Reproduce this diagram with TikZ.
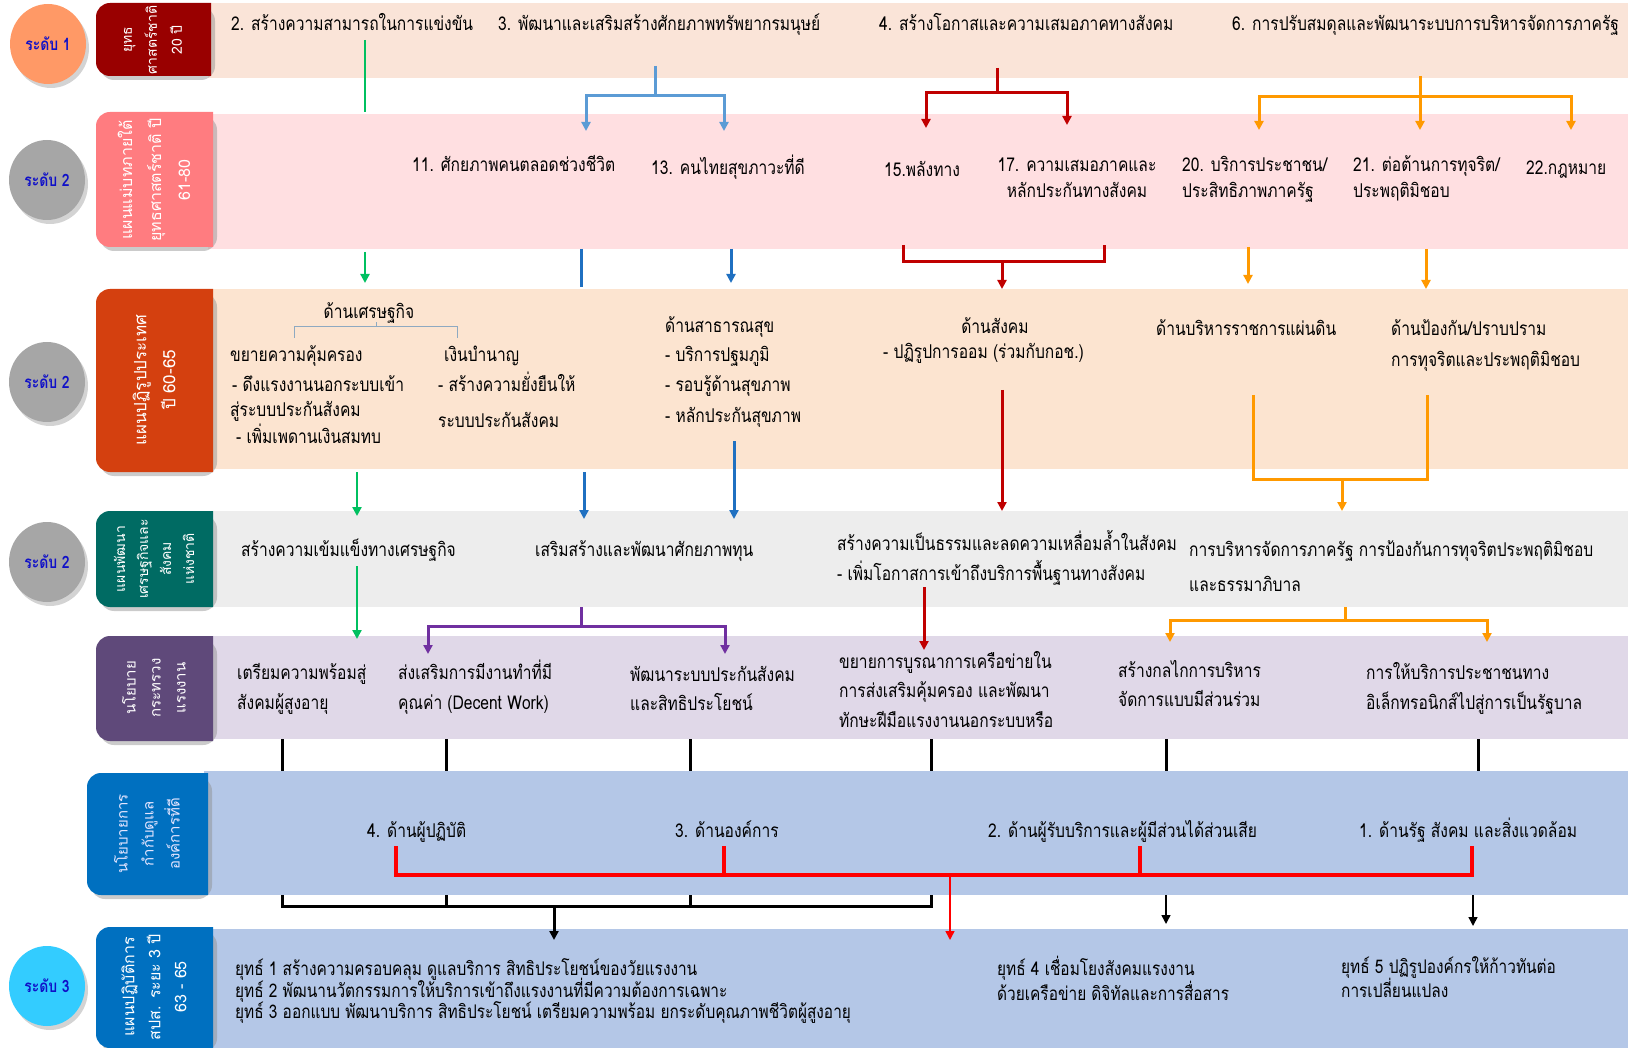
\documentclass[tikz,border=0pt]{standalone}
\usepackage{fontspec}
\setmainfont{Loma}[Script=Thai,FakeStretch=0.82]
\newfontfamily\tagfont{Loma}[Script=Thai]
\usetikzlibrary{arrows.meta,shapes.geometric,shadows}

\definecolor{bandA}{HTML}{FAE4D8}
\definecolor{bandB}{HTML}{FFDFE1}
\definecolor{bandC}{HTML}{FCE4D0}
\definecolor{bandD}{HTML}{EDEDED}
\definecolor{bandE}{HTML}{E0D8E8}
\definecolor{bandF}{HTML}{B4C7E7}
\definecolor{tagA}{HTML}{990000}
\definecolor{tagB}{HTML}{FF7C80}
\definecolor{tagC}{HTML}{D4400F}
\definecolor{tagD}{HTML}{006B63}
\definecolor{tagE}{HTML}{5F497A}
\definecolor{tagF}{HTML}{0070C0}
\definecolor{lvA}{HTML}{FF9966}
\definecolor{lvB}{HTML}{A6A6A6}
\definecolor{lvC}{HTML}{33CCFF}
\definecolor{lvtext}{HTML}{1010C8}
\definecolor{cgreen}{HTML}{00C060}
\definecolor{clblue}{HTML}{5B9BD5}
\definecolor{cdblue}{HTML}{1F70C1}
\definecolor{cpurple}{HTML}{7030A0}
\definecolor{cdred}{HTML}{C00000}
\definecolor{corange}{HTML}{FF9900}
\definecolor{brk}{HTML}{8EA9C1}

\tikzset{
  txt/.style={anchor=base west,inner sep=0pt,font=\fontsize{19}{23}\selectfont},
  txtc/.style={txt,anchor=base},
  small/.style={txt,font=\fontsize{18.8}{21}\selectfont},
  tagtxt/.style={rotate=90,align=center,text=white,inner sep=0pt,font=\tagfont\fontsize{14}{24}\selectfont},
  lvl/.style={ellipse,minimum width=76pt,minimum height=80pt,inner sep=0pt,text=lvtext,
    font=\fontsize{17}{19}\selectfont\bfseries,
    drop shadow={shadow xshift=3pt,shadow yshift=-4pt,opacity=.35}},
  gline/.style={cgreen,line width=2.5pt},
  lbline/.style={clblue,line width=3pt},
  dbline/.style={cdblue,line width=3pt},
  pline/.style={cpurple,line width=3pt},
  rline/.style={cdred,line width=3pt},
  oline/.style={corange,line width=3pt},
  kline/.style={black,line width=3pt},
  bline/.style={red,line width=4pt}
}

% side tag with rounded left corners
\newcommand\sidetag[5]{%
  \fill[black!45,opacity=.45,rounded corners=14pt] (#2+4,#3+4) rectangle (#4+4,#5+4);
  \begin{scope}
    \clip (#2,#3) rectangle (#4,#5);
    \fill[#1,rounded corners=14pt] (#2,#3) rectangle (#4+30,#5);
  \end{scope}}

\begin{document}
\begin{tikzpicture}[x=1pt,y=-1pt,>={Triangle[length=9pt,width=9pt]}]
  \useasboundingbox (0,0) rectangle (1628,1048);

  % bands
  \fill[bandA] (208,3) rectangle (1628,78);
  \fill[bandB] (208,114) rectangle (1628,249);
  \fill[bandC] (208,289) rectangle (1628,469);
  \fill[bandD] (208,511) rectangle (1628,607);
  \fill[bandE] (208,636) rectangle (1628,739);
  \fill[bandF] (204,771) rectangle (1628,895);
  \fill[bandF] (208,929) rectangle (1628,1048);

  % side tags
  \sidetag{tagA}{96}{3}{211}{76}
  \sidetag{tagB}{96}{112}{213}{247}
  \sidetag{tagC}{96}{289}{213}{472}
  \sidetag{tagD}{96}{511}{213}{607}
  \sidetag{tagE}{96}{636}{213}{741}
  \sidetag{tagF}{87}{773}{208}{895}
  \sidetag{tagF}{96}{927}{213}{1048}
  \node[tagtxt,font=\tagfont\fontsize{14}{25}\selectfont] (tag1) at (153,40) {ยุทธ\\ศาสตร์ชาติ\\20 ปี};
  \node[tagtxt,font=\tagfont\fontsize{16}{29}\selectfont] (tag2) at (154,180) {แผนแม่บทภายใต้\\ยุทธศาสตร์ชาติ ปี\\61-80};
  \node[tagtxt,font=\tagfont\fontsize{17}{29}\selectfont] (tag3) at (154,380) {แผนปฏิรูปประเทศ\\ปี 60-65};
  \node[tagtxt,font=\tagfont\fontsize{14}{23}\selectfont] (tag4) at (154,559) {แผนพัฒนา\\เศรษฐกิจและ\\สังคม\\แห่งชาติ};
  \node[tagtxt,font=\tagfont\fontsize{15}{25}\selectfont] (tag5) at (154,688) {นโยบาย\\กระทรวง\\แรงงาน};
  \node[tagtxt,text=blue!10,font=\tagfont\fontsize{15}{26}\selectfont] (tag6) at (147,834) {นโยบายการ\\กำกับดูแล\\องค์การที่ดี};
  \node[tagtxt,font=\tagfont\fontsize{16}{26}\selectfont] (tag7) at (154,987) {แผนปฏิบัติการ\\สปส. ระยะ 3 ปี\\63 - 65};

  % levels
  \node[lvl,fill=lvA] (lv1) at (48,44) {ระดับ 1};
  \node[lvl,fill=lvB] (lv2) at (47,180) {ระดับ 2};
  \node[lvl,fill=lvB] (lv3) at (47,382) {ระดับ 2};
  \node[lvl,fill=lvB] (lv4) at (47,562) {ระดับ 2};
  \node[lvl,fill=lvC] (lv5) at (47,986) {ระดับ 3};

  % row 1
  \node[txt] (s2) at (231,31) {2. สร้างความสามารถในการแข่งขัน};
  \node[txt] (s3) at (498,31) {3. พัฒนาและเสริมสร้างศักยภาพทรัพยากรมนุษย์};
  \node[txt] (s4) at (879,31) {4. สร้างโอกาสและความเสมอภาคทางสังคม};
  \node[txt] (s6) at (1232,31) {6. การปรับสมดุลและพัฒนาระบบการบริหารจัดการภาครัฐ};

  % row 2
  \node[txt] (m11) at (412,172) {11. ศักยภาพคนตลอดช่วงชีวิต};
  \node[txt] (m13) at (651,175) {13. คนไทยสุขภาวะที่ดี};
  \node[txt] (m15) at (884,177) {15.พลังทาง};
  \node[txtc] (m17a) at (1077,172) {17. ความเสมอภาคและ};
  \node[txtc] (m17b) at (1077,198) {หลักประกันทางสังคม};
  \node[txt] (m20a) at (1182,172) {20. บริการประชาชน/};
  \node[txt] (m20b) at (1182,198) {ประสิทธิภาพภาครัฐ};
  \node[txt] (m21a) at (1353,172) {21. ต่อต้านการทุจริต/};
  \node[txt] (m21b) at (1353,198) {ประพฤติมิชอบ};
  \node[txt] (m22) at (1526,175) {22.กฎหมาย};

  % row 3
  \node[txtc] (econ) at (369,319) {ด้านเศรษฐกิจ};
  \draw[brk,line width=1pt] (294,338) |- (457,327) -- (457,338);
  \draw[brk,line width=1pt] (376,327) -- (376,322);
  \node[txt] (x1) at (230,362) {ขยายความคุ้มครอง};
  \node[txt] (x2) at (232,392) {- ดึงแรงงานนอกระบบเข้า};
  \node[txt] (x3) at (230,417) {สู่ระบบประกันสังคม};
  \node[txt] (x4) at (236,443) {- เพิ่มเพดานเงินสมทบ};
  \node[txt] (p1) at (444,362) {เงินบำนาญ};
  \node[txt] (p2) at (438,392) {- สร้างความยั่งยืนให้};
  \node[txt] (p3) at (438,428) {ระบบประกันสังคม};
  \node[txt] (h1) at (665,333) {ด้านสาธารณสุข};
  \node[txt] (h2) at (665,362) {- บริการปฐมภูมิ};
  \node[txt] (h3) at (665,392) {- รอบรู้ด้านสุขภาพ};
  \node[txt] (h4) at (665,422) {- หลักประกันสุขภาพ};
  \node[txtc] (so1) at (995,334) {ด้านสังคม};
  \node[txt] (so2) at (883,359) {- ปฏิรูปการออม (ร่วมกับกอช.)};
  \node[txt] (ad1) at (1156,336) {ด้านบริหารราชการแผ่นดิน};
  \node[txt] (pv1) at (1391,336) {ด้านป้องกัน/ปราบปราม};
  \node[txt] (pv2) at (1391,367) {การทุจริตและประพฤติมิชอบ};

  % row 4
  \node[txt] (n1) at (241,556) {สร้างความเข้มแข็งทางเศรษฐกิจ};
  \node[txt] (n2) at (535,556) {เสริมสร้างและพัฒนาศักยภาพทุน};
  \node[txt] (n3a) at (837,550) {สร้างความเป็นธรรมและลดความเหลื่อมล้ำในสังคม};
  \node[txt] (n3b) at (837,580) {- เพิ่มโอกาสการเข้าถึงบริการพื้นฐานทางสังคม};
  \node[txt] (n4a) at (1189,556) {การบริหารจัดการภาครัฐ การป้องกันการทุจริตประพฤติมิชอบ};
  \node[txt] (n4b) at (1189,591) {และธรรมาภิบาล};

  % row 5
  \node[txt] (l1a) at (237,679) {เตรียมความพร้อมสู่};
  \node[txt] (l1b) at (237,709) {สังคมผู้สูงอายุ};
  \node[txt] (l2a) at (398,679) {ส่งเสริมการมีงานทำที่มี};
  \node[txt] (l2b) at (398,709) {คุณค่า (Decent Work)};
  \node[txt] (l3a) at (630,681) {พัฒนาระบบประกันสังคม};
  \node[txt] (l3b) at (630,710) {และสิทธิประโยชน์};
  \node[txt] (l4a) at (839,668) {ขยายการบูรณาการเครือข่ายใน};
  \node[txt] (l4b) at (839,697) {การส่งเสริมคุ้มครอง และพัฒนา};
  \node[txt] (l4c) at (839,727) {ทักษะฝีมือแรงงานนอกระบบหรือ};
  \node[txt] (l5a) at (1118,677) {สร้างกลไกการบริหาร};
  \node[txt] (l5b) at (1118,706) {จัดการแบบมีส่วนร่วม};
  \node[txt] (l6a) at (1366,679) {การให้บริการประชาชนทาง};
  \node[txt] (l6b) at (1366,709) {อิเล็กทรอนิกส์ไปสู่การเป็นรัฐบาล};

  % row 6
  \node[txt] (g4) at (367,837) {4. ด้านผู้ปฏิบัติ};
  \node[txt] (g3) at (675,837) {3. ด้านองค์การ};
  \node[txt] (g2) at (988,837) {2. ด้านผู้รับบริการและผู้มีส่วนได้ส่วนเสีย};
  \node[txt] (g1) at (1359,837) {1. ด้านรัฐ สังคม และสิ่งแวดล้อม};

  % row 7
  \node[small] (y1) at (235,975) {ยุทธ์ 1 สร้างความครอบคลุม ดูแลบริการ สิทธิประโยชน์ของวัยแรงงาน};
  \node[small] (y2) at (235,997) {ยุทธ์ 2 พัฒนานวัตกรรมการให้บริการเข้าถึงแรงงานที่มีความต้องการเฉพาะ};
  \node[small] (y3) at (235,1018) {ยุทธ์ 3 ออกแบบ พัฒนาบริการ สิทธิประโยชน์ เตรียมความพร้อม ยกระดับคุณภาพชีวิตผู้สูงอายุ};
  \node[small] (y4a) at (997,975) {ยุทธ์ 4 เชื่อมโยงสังคมแรงงาน};
  \node[small] (y4b) at (997,1000) {ด้วยเครือข่าย ดิจิทัลและการสื่อสาร};
  \node[small] (y5a) at (1341,973) {ยุทธ์ 5 ปฏิรูปองค์กรให้ก้าวทันต่อ};
  \node[small] (y5b) at (1341,997) {การเปลี่ยนแปลง};

  % green
  \draw[gline] (365,40) -- (365,112);
  \draw[gline,->] (365,252) -- (365,283);
  \draw[gline,->] (357,472) -- (357,516);
  \draw[gline,->] (357,566) -- (357,639);

  % blue
  \draw[lbline] (655,66) -- (655,96);
  \draw[lbline,->] (655,96) -| (586,131);
  \draw[lbline,->] (655,96) -| (724,131);
  \draw[dbline] (581,249) -- (581,287);
  \draw[dbline,->] (731,249) -- (731,283);
  \draw[dbline,->] (584,472) -- (584,519);
  \draw[dbline,->] (734,441) -- (734,519);

  % purple
  \draw[pline] (581,607) -- (581,626);
  \draw[pline,->] (581,626) -| (428,654);
  \draw[pline,->] (581,626) -| (725,654);

  % dark red
  \draw[rline] (997,68) -- (997,93);
  \draw[rline,->] (997,93) -| (926,128);
  \draw[rline,->] (997,93) -| (1067,125);
  \draw[rline] (903,245) |- (1104,262) -- (1104,245);
  \draw[rline,->] (1002,262) -- (1002,289);
  \draw[rline,->] (1002,390) -- (1002,511);
  \draw[rline,->] (924,587) -- (924,650);

  % orange
  \draw[oline] (1420,76) -- (1420,97);
  \draw[oline,->] (1420,97) -| (1259,130);
  \draw[oline,->] (1420,97) -- (1420,130);
  \draw[oline,->] (1420,97) -| (1571,130);
  \draw[oline,->] (1248,247) -- (1248,284);
  \draw[oline,->] (1426,249) -- (1426,289);
  \draw[oline] (1253,395) |- (1427,479) -- (1427,395);
  \draw[oline,->] (1342,479) -- (1342,511);
  \draw[oline] (1345,607) -- (1345,620);
  \draw[oline,->] (1345,620) -| (1170,642);
  \draw[oline,->] (1345,620) -| (1487,642);

  % black
  \foreach \x in {282,446,690,931,1166,1478}
    \draw[kline] (\x,739) -- (\x,771);
  \draw[kline] (282,895) |- (931,906) -- (931,895);
  \foreach \x in {446,690}
    \draw[kline] (\x,895) -- (\x,906);
  \draw[kline,->] (554,906) -- (554,940);
  \draw[black,line width=1.5pt,->] (1166,895) -- (1166,924);
  \draw[black,line width=1.5pt,->] (1473,895) -- (1473,926);

  % bright red
  \draw[bline] (396,846) |- (1472,875) -- (1472,846);
  \foreach \x in {724,1140}
    \draw[bline] (\x,846) -- (\x,875);
  \draw[red,line width=1.5pt,->] (950,875) -- (950,940);
\end{tikzpicture}
\end{document}
